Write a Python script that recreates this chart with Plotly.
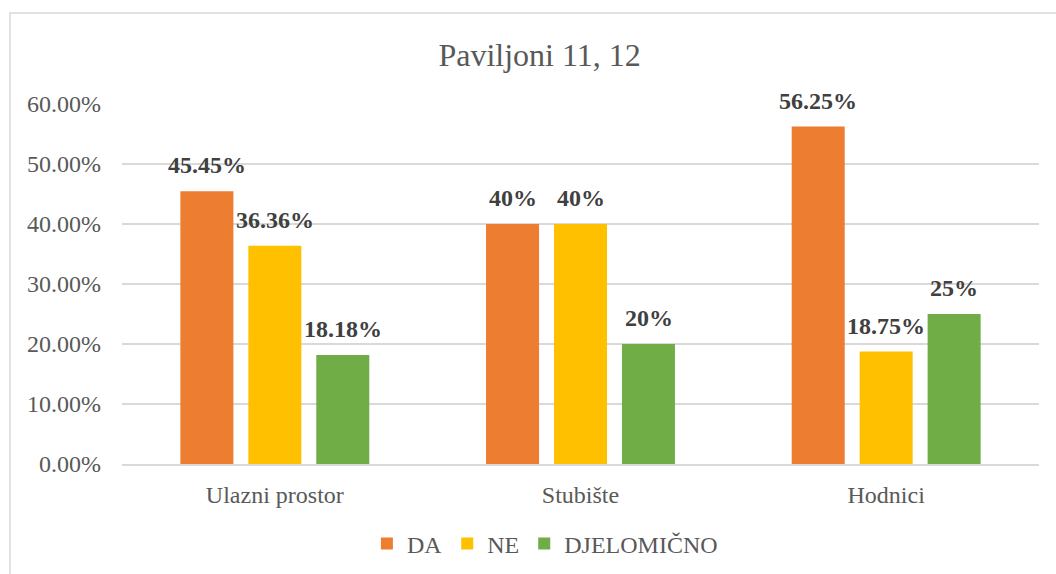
import plotly.graph_objects as go

categories = ["Ulazni prostor", "Stubište", "Hodnici"]
series_names = ["DA", "NE", "DJELOMIČNO"]
da_values = [45.45, 40, 56.25]
ne_values = [36.36, 40, 18.75]
djelomicno_values = [18.18, 20, 25]
colors = ["#ED7D31", "#FFC000", "#70AD47"]
y_ticks = [0, 0.1, 0.2, 0.3, 0.4, 0.5, 0.6]

all_values = [da_values, ne_values, djelomicno_values]
FONT = "Liberation Serif, Times New Roman, serif"

fig = go.Figure()
for name, vals, col in zip(series_names, all_values, colors):
    fig.add_trace(go.Bar(
        name=name, x=categories, y=[v / 100 for v in vals],
        marker=dict(color=col, line=dict(width=0)),
        hoverinfo="skip",
    ))

slot = 68
for i, vals in enumerate(all_values):
    for cat, v in zip(categories, vals):
        fig.add_annotation(
            x=cat, y=v / 100, xref="x", yref="y",
            text=f"<b>{v:g}%</b>", showarrow=False,
            xshift=(i - 1) * slot, yanchor="bottom", yshift=11,
            font=dict(family=FONT, size=24, color="#404040"),
        )

fig.add_shape(type="rect", xref="paper", yref="paper",
              x0=-0.1221, x1=1.03, y0=-0.33, y1=1.2528,
              line=dict(color="#D9D9D9", width=1.5), fillcolor="rgba(0,0,0,0)",
              layer="below")

fig.update_layout(
    width=1056, height=574, autosize=False,
    margin=dict(l=122, r=17, t=104, b=110),
    paper_bgcolor="white", plot_bgcolor="white",
    barmode="group", bargap=0.333, bargroupgap=0.22,
    title=dict(text="Paviljoni 11, 12", x=0.511, xref="container", xanchor="center",
               y=1 - 55 / 574, yref="container", yanchor="middle",
               font=dict(family=FONT, size=32, color="#595959")),
    font=dict(family=FONT, size=24, color="#595959"),
    legend=dict(orientation="h", x=0.516, xref="container", xanchor="center",
                y=1 - 544 / 574, yref="container", yanchor="middle",
                font=dict(family=FONT, size=24, color="#595959"),
                bgcolor="rgba(0,0,0,0)", itemclick=False),
    yaxis=dict(range=[0, 0.6], tickvals=y_ticks, tickformat=".2%",
               showgrid=True, gridcolor="#D9D9D9", gridwidth=1.5,
               zeroline=False, showline=False, ticks="", ticklabelstandoff=20,
               tickfont=dict(family=FONT, size=24, color="#595959"), fixedrange=True),
    xaxis=dict(showline=True, linecolor="#D9D9D9", linewidth=1.5, ticks="",
               ticklabelstandoff=8,
               tickfont=dict(family=FONT, size=24, color="#595959"), fixedrange=True),
    showlegend=True,
)

fig.write_html("out.html", config={"displayModeBar": False},
               post_script="document.body.style.margin='0';")
